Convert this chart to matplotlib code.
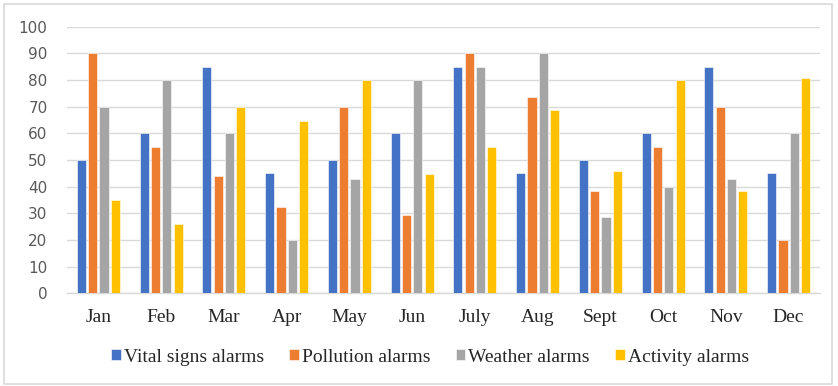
import matplotlib
matplotlib.use("Agg")
import matplotlib.pyplot as plt
import numpy as np
from matplotlib.patches import Rectangle

months = ["Jan", "Feb", "Mar", "Apr", "May", "Jun", "July", "Aug", "Sept", "Oct", "Nov", "Dec"]
vital = [50, 60, 85, 45, 50, 60, 85, 45, 50, 60, 85, 45]
pollution = [90, 55, 44, 32.5, 70, 29.5, 90, 73.5, 38.5, 55, 70, 20]
weather = [70, 80, 60, 20, 42.7, 80, 85, 90, 28.7, 40, 42.7, 60]
activity = [35, 26, 70, 64.5, 80, 44.6, 55, 68.7, 45.9, 80, 38.5, 80.7]

series = [
    ("Vital signs alarms", vital, "#4472C4"),
    ("Pollution alarms", pollution, "#ED7D31"),
    ("Weather alarms", weather, "#A5A5A5"),
    ("Activity alarms", activity, "#FFC000"),
]

W, H = 838, 386
fig = plt.figure(figsize=(W / 100, H / 100), dpi=100)
ax = fig.add_axes([67 / W, (H - 293.3) / H, (820 - 67) / W, (293.3 - 26.7) / H])

x = np.arange(len(months))
step = 0.18
bw = 0.145
for i, (name, vals, col) in enumerate(series):
    ax.bar(x + (i - 1.5) * step, vals, width=bw, color=col, label=name,
           edgecolor="white", linewidth=0.4, zorder=3)

ax.set_xlim(-0.5, len(months) - 0.5)
ax.set_ylim(0, 100)
ax.set_yticks(range(0, 101, 10))
ax.yaxis.grid(True, color="#D9D9D9", linewidth=1.0, zorder=0)
ax.set_axisbelow(True)
for s in ["top", "right", "left"]:
    ax.spines[s].set_visible(False)
ax.spines["bottom"].set_color("#D9D9D9")
ax.spines["bottom"].set_linewidth(1.0)
ax.tick_params(axis="both", length=0)
ax.tick_params(axis="y", pad=14, labelsize=11, labelcolor="#595959")
for lbl in ax.get_yticklabels():
    lbl.set_family("DejaVu Sans")
ax.set_xticks(x)
ax.set_xticklabels(months, family="Liberation Serif", fontsize=14, color="#262626")
ax.tick_params(axis="x", pad=11)

leg = fig.legend(loc="center", bbox_to_anchor=(430 / W, (H - 357) / H), ncol=4,
                 frameon=False, prop={"family": "Liberation Serif", "size": 14},
                 handlelength=0.5, handleheight=0.5, handletextpad=0.15,
                 columnspacing=1.3)
for t in leg.get_texts():
    t.set_color("#262626")

fig.patches.append(Rectangle((4 / W, 2 / H), (832 - 4) / W, (382 - 2) / H,
                             transform=fig.transFigure, fill=False,
                             edgecolor="#D9D9D9", linewidth=1.2))

fig.savefig("out.png", dpi=100)
